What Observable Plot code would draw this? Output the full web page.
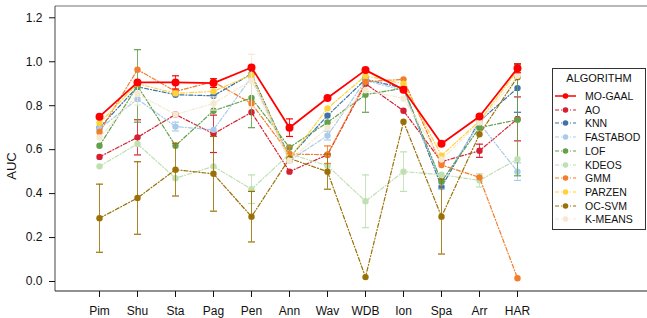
<!DOCTYPE html>
<html>
<head>
<meta charset="utf-8">
<script src="https://cdn.jsdelivr.net/npm/d3@7"></script>
<script src="https://cdn.jsdelivr.net/npm/@observablehq/plot@0.6"></script>
<style>
  html, body { margin: 0; padding: 0; background: white; }
  #wrap { position: relative; width: 647px; height: 318px; font-family: "Liberation Sans", Arial, sans-serif; }
  #ylabel { position: absolute; left: 12px; top: 166px; transform: translate(-50%, -50%) rotate(-90deg); font-size: 13px; color: #111; white-space: nowrap; line-height: 14px; }
  #legend { position: absolute; left: 552px; top: 68px; width: 94px; height: 162px; border: 1px solid #333; background: white; box-sizing: border-box; }
  #legend .title { position: absolute; left: 0; width: 100%; top: 2px; text-align: center; font-size: 11px; line-height: 14px; color: #111; }
  #legend .row { position: absolute; left: 0; height: 14px; line-height: 14px; font-size: 10.5px; color: #111; white-space: nowrap; }
  #legend .row svg { position: absolute; left: 2px; top: 0; }
  #legend .row span { position: absolute; left: 32px; top: 0; }
</style>
</head>
<body>
<div id="wrap"></div>
<script>
// ---- data ----
const categories = ["Pim","Shu","Sta","Pag","Pen","Ann","Wav","WDB","Ion","Spa","Arr","HAR"];
const algorithms = ["MO-GAAL","AO","KNN","FASTABOD","LOF","KDEOS","GMM","PARZEN","OC-SVM","K-MEANS"];
const colors = ["#ff0000","#d42030","#3e72a8","#a9cbe9","#64a04c","#bfe0b0","#f37d2a","#ffd23a","#9b7106","#f5e9d2"];
const yTicks = [0.0, 0.2, 0.4, 0.6, 0.8, 1.0, 1.2];
const yLabel = "AUC";

const moGaal   = [0.75, 0.906, 0.906, 0.903, 0.974, 0.70, 0.835, 0.962, 0.873, 0.627, 0.751, 0.97];
const ao       = [0.567, 0.656, 0.76, 0.672, 0.77, 0.50, 0.577, 0.90, 0.777, 0.545, 0.595, 0.74];
const knn      = [0.70, 0.886, 0.85, 0.845, 0.945, 0.565, 0.755, 0.92, 0.88, 0.43, 0.73, 0.88];
const fastabod = [0.695, 0.83, 0.705, 0.69, 0.93, 0.55, 0.664, 0.915, 0.87, 0.45, 0.72, 0.50];
const lof      = [0.618, 0.89, 0.618, 0.777, 0.835, 0.61, 0.724, 0.85, 0.88, 0.455, 0.70, 0.736];
const kdeos    = [0.524, 0.626, 0.47, 0.524, 0.42, 0.58, 0.527, 0.365, 0.50, 0.486, 0.46, 0.557];
const gmm      = [0.68, 0.964, 0.865, 0.909, 0.81, 0.58, 0.577, 0.909, 0.92, 0.53, 0.474, 0.015];
const parzen   = [0.721, 0.90, 0.856, 0.865, 0.94, 0.56, 0.788, 0.936, 0.90, 0.573, 0.73, 0.96];
const ocSvm    = [0.288, 0.38, 0.509, 0.49, 0.295, 0.56, 0.50, 0.02, 0.727, 0.295, 0.67, 0.93];
const kMeans   = [0.655, 0.853, 0.76, 0.81, 0.914, 0.55, 0.70, 0.87, 0.833, 0.555, 0.724, 0.936];

// error half-widths (0 = no bar)
const errMoGaal   = [0, 0, 0.03, 0.02, 0, 0.04, 0, 0, 0, 0, 0, 0.02];
const errAo       = [0, 0.08, 0, 0.085, 0, 0, 0, 0, 0, 0, 0.03, 0.10];
const errKnn      = [0, 0, 0, 0, 0, 0, 0, 0, 0, 0, 0, 0.11];
const errFastabod = [0, 0, 0.02, 0, 0, 0, 0.02, 0, 0, 0.03, 0, 0.04];
const errLof      = [0, 0.165, 0, 0, 0.135, 0, 0, 0.08, 0, 0, 0, 0.255];
const errKdeos    = [0, 0, 0, 0, 0.065, 0, 0, 0.12, 0.09, 0, 0.03, 0];
const errGmm      = [0, 0, 0, 0, 0, 0.035, 0.04, 0, 0, 0, 0, 0];
const errParzen   = [0, 0, 0, 0, 0, 0, 0, 0, 0, 0, 0, 0];
const errOcSvm    = [0.155, 0.165, 0.12, 0.17, 0.115, 0, 0.08, 0, 0, 0.17, 0, 0];
const errKMeans   = [0, 0.05, 0, 0.03, 0.12, 0, 0, 0, 0, 0, 0, 0];

const values = [moGaal, ao, knn, fastabod, lof, kdeos, gmm, parzen, ocSvm, kMeans];
const errors = [errMoGaal, errAo, errKnn, errFastabod, errLof, errKdeos, errGmm, errParzen, errOcSvm, errKMeans];

// ---- build ----
const series = algorithms.map((name, i) => ({
  name, color: colors[i], main: i === 0,
  points: categories.map((c, j) => ({cat: c, v: values[i][j], e: errors[i][j]}))
}));

const capSymbol = { draw(ctx) { ctx.moveTo(-3.5, 0); ctx.lineTo(3.5, 0); } };

function frameLines(index, scales, vals, dims) {
  const ns = "http://www.w3.org/2000/svg";
  const g = document.createElementNS(ns, "g");
  const L = dims.marginLeft, T = dims.marginTop, R = dims.width - dims.marginRight, B = dims.height - dims.marginBottom;
  const mk = (x1, y1, x2, y2, stroke, w) => {
    const l = document.createElementNS(ns, "line");
    l.setAttribute("x1", x1); l.setAttribute("y1", y1); l.setAttribute("x2", x2); l.setAttribute("y2", y2);
    l.setAttribute("stroke", stroke); l.setAttribute("stroke-width", w);
    g.appendChild(l);
  };
  mk(L, T, R, T, "#a0a0a0", 1.5);
  mk(L, T, L, B, "#444", 1);
  mk(L, B, R, B, "#222", 1);
  return g;
}

const marks = [
  Plot.ruleY(yTicks, {y: d => d, x1: categories[0], x2: categories[categories.length - 1], stroke: "#bdbdbd", strokeDasharray: "5,4", strokeWidth: 1}),
  frameLines,
  Plot.axisY({ticks: yTicks, tickFormat: d3.format(".1f"), tickSize: 6, tickPadding: 7, label: null, fontSize: 12}),
  Plot.axisX({tickSize: 6, tickPadding: 9, label: null, fontSize: 12})
];

const order = series.slice(1).concat([series[0]]);
for (const s of order) {
  const errData = s.points.filter(p => p.e > 0).map(p => ({cat: p.cat, lo: p.v - p.e, hi: p.v + p.e}));
  marks.push(Plot.ruleX(errData, {x: "cat", y1: "lo", y2: "hi", stroke: s.color, strokeWidth: 1, strokeOpacity: 0.85}));
  marks.push(Plot.dot(errData, {x: "cat", y: "lo", symbol: capSymbol, stroke: s.color, strokeWidth: 1.2, fill: "none"}));
  marks.push(Plot.dot(errData, {x: "cat", y: "hi", symbol: capSymbol, stroke: s.color, strokeWidth: 1.2, fill: "none"}));
  marks.push(Plot.line(s.points, {x: "cat", y: "v", stroke: s.color,
    strokeWidth: s.main ? 1.8 : 1.2,
    strokeDasharray: s.main ? null : "4,2,1,2"}));
  marks.push(Plot.dot(s.points, {x: "cat", y: "v", r: s.main ? 4 : 3.2, fill: s.color, stroke: "none"}));
}

const chart = Plot.plot({
  width: 647,
  height: 318,
  marginLeft: 55,
  marginRight: 0,
  marginTop: 6,
  marginBottom: 27,
  style: {fontFamily: "'Liberation Sans', Arial, sans-serif", fontSize: "12px", background: "white", color: "#111"},
  x: {type: "point", domain: categories, range: [77.3, 539.3]},
  y: {domain: [0, 1.2], range: [281, 17.3]},
  marks
});

const wrap = document.getElementById("wrap");
wrap.appendChild(chart);

const yl = document.createElement("div");
yl.id = "ylabel";
yl.textContent = yLabel;
wrap.appendChild(yl);

// legend
const legend = document.createElement("div");
legend.id = "legend";
const title = document.createElement("div");
title.className = "title";
title.textContent = "ALGORITHM";
legend.appendChild(title);
series.forEach((s, i) => {
  const row = document.createElement("div");
  row.className = "row";
  row.style.top = (20 + 13.7 * i) + "px";
  const dash = s.main ? "" : ` stroke-dasharray="4,2,1,2"`;
  row.innerHTML = `<svg width="22" height="14"><line x1="0" y1="7" x2="21" y2="7" stroke="${s.color}" stroke-width="${s.main ? 1.5 : 1.2}"${dash}/><circle cx="10.5" cy="7" r="2.8" fill="${s.color}"/></svg><span>${s.name}</span>`;
  legend.appendChild(row);
});
wrap.appendChild(legend);
</script>
</body>
</html>
